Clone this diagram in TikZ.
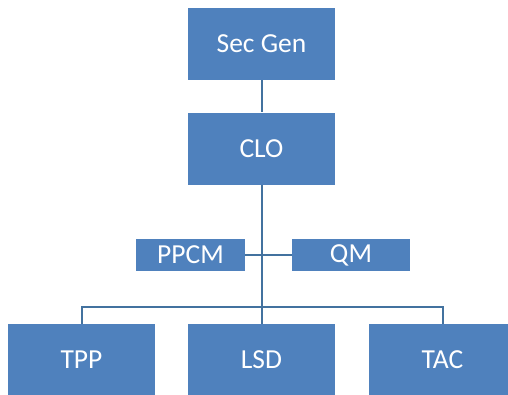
\documentclass[tikz,border=0pt]{standalone}
\usepackage{fontspec}
\setmainfont{Carlito}
\usepackage{tikz}
\definecolor{boxblue}{HTML}{4F81BD}
\definecolor{lineblue}{HTML}{43729F}

\begin{document}
\begin{tikzpicture}[x=1pt,y=-1pt,
    post/.style={fill=boxblue,text=white,inner sep=0pt,minimum width=147pt,minimum height=72pt,font=\fontsize{27.5}{32}\selectfont},
    staff/.style={post,minimum height=32pt},
    link/.style={draw=lineblue,line width=2pt}]
	\useasboundingbox (0,0) rectangle (508,394);
	\node[post] (secgen) at (261.5,44) {Sec Gen};
	\node[post] (clo) at (261.5,148.5) {CLO};
	\node[staff,minimum width=109pt] (ppcm) at (190.5,255) {PPCM};
	\node[staff,minimum width=118pt] (qm) at (351,255) {QM};
	\node[post] (tpp) at (81.5,360) {TPP};
	\node[post] (lsd) at (261.5,360) {LSD};
	\node[post] (tac) at (442.5,360) {TAC};
	\coordinate (branch) at (261.5,307);
	\draw[link] (secgen) -- (clo);
	\draw[link] (clo) -- (lsd);
	\draw[link] (ppcm) -- (qm);
	\draw[link] (tpp.north) |- (branch) -| (tac.north);
\end{tikzpicture}
\end{document}
